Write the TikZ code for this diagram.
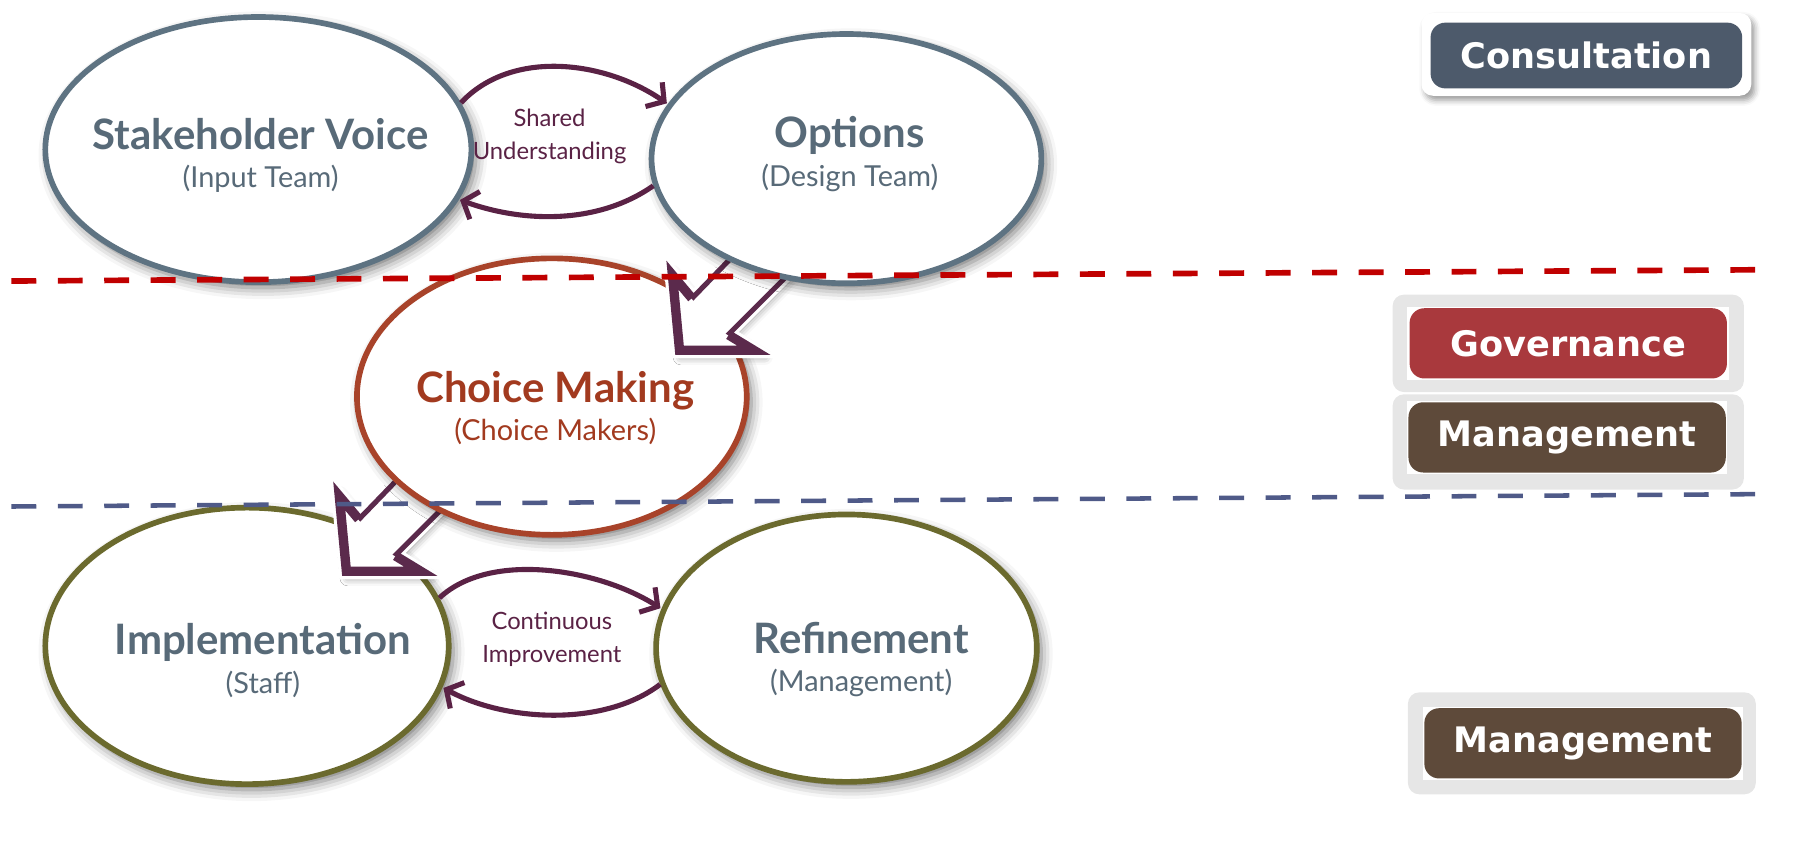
\documentclass[tikz,border=0pt]{standalone}
\usepackage{fontspec}
\setmainfont{Lato}
\newfontfamily\tagfont{DejaVu Sans}
\usetikzlibrary{shapes.geometric,arrows.meta,shadows.blur}

\definecolor{slate}{HTML}{5E7382}
\definecolor{slatetext}{HTML}{586A78}
\definecolor{rust}{HTML}{A8432A}
\definecolor{rusttext}{HTML}{A23A1F}
\definecolor{olive}{HTML}{6B6A2E}
\definecolor{plum}{HTML}{5A2245}
\definecolor{blockplum}{HTML}{5B2A4C}
\definecolor{redline}{HTML}{C00000}
\definecolor{blueline}{HTML}{4F5A88}
\definecolor{consultfill}{HTML}{4D5A6B}
\definecolor{governfill}{HTML}{A9393D}
\definecolor{managefill}{HTML}{5E4A3A}
\definecolor{lightframe}{HTML}{E6E6E6}

\newcommand{\ttl}[1]{{\fontsize{37}{40}\selectfont\bfseries #1}}
\newcommand{\blockarrow}[1]{%
  \draw[blockar, shift={(#1)}] (0,0) -- (-7,-74) -- (14,-49) -- (74,-111)
    -- (106,-77) -- (46,-17) -- (74,0) -- cycle;
  \begin{scope}[shift={(#1)}]
    \clip (0,0) -- (-7,-74) -- (14,-49) -- (74,-111)
      -- (106,-77) -- (46,-17) -- (74,0) -- cycle;
    \draw[blockplum, line width=12pt, line join=miter]
      (14,-49) -- (-7,-74) -- (0,0) -- (74,0) -- (46,-17);
  \end{scope}}

\begin{document}
\begin{tikzpicture}[
    x=1pt, y=-1pt,
    % ellipses
    base/.style={ellipse, line width=5pt, fill=white, inner sep=0pt,
      blur shadow={shadow xshift=4pt, shadow yshift=-5pt,
                   shadow blur radius=10pt, shadow opacity=55}},
    topell/.style={base, draw=slate},
    midell/.style={base, draw=rust},
    lowell/.style={base, draw=olive},
    % texts
    subtxt/.style={align=center, text=slatetext, font=\fontsize{25.5}{31}\selectfont},
    choicetxt/.style={subtxt, text=rusttext},
    loopnote/.style={align=center, text=plum, font=\fontsize{21}{29}\selectfont},
    % labels on the right
    tagbox/.style={rectangle, rounded corners=13pt, minimum width=280pt,
      minimum height=62pt, text=white, font=\fontsize{31}{36}\tagfont\bfseries},
    tagframe/.style={rectangle, rounded corners=10pt, fill=lightframe,
      minimum width=310pt},
    % arrows
    cycar/.style={plum, line width=4.5pt, shorten >=1pt,
      -{Straight Barb[length=11pt, width=26pt]}},
    blockar/.style={fill=white, draw=blockplum, line width=4.5pt, line join=miter,
      blur shadow={shadow xshift=3pt, shadow yshift=-4pt,
                   shadow blur radius=7pt, shadow opacity=45},
      preaction={draw=white, line width=10pt}},
    sepline/.style={line width=5pt, dash pattern=on 22pt off 19pt}
  ]

  \useasboundingbox (0,0) rectangle (1600,742);

  % ellipses, back to front
  \node (sv)   [topell, minimum width=376pt, minimum height=234pt] at (228,132) {};
  \node (svtext)   [subtxt] at ([shift={(2,5)}]sv)    {\ttl{Stakeholder Voice}\\[3pt](Input Team)};

  \node (ref)  [lowell, minimum width=336pt, minimum height=236pt] at (747,572) {};
  \node (reftext)  [subtxt] at ([shift={(13,10)}]ref) {\ttl{Refinement}\\[3pt](Management)};

  \node (impl) [lowell, minimum width=356pt, minimum height=244pt] at (218,570) {};
  \node (impltext) [subtxt] at ([shift={(14,13)}]impl) {\ttl{Implementation}\\[3pt](Staff)};

  \coordinate (cmimpl) at (304,506);
  \blockarrow{cmimpl}

  \node (cm)   [midell, minimum width=344pt, minimum height=244pt] at (487,350) {};
  \node (cmtext)   [choicetxt] at ([shift={(3,10)}]cm) {\ttl{Choice Making}\\[3pt](Choice Makers)};

  \coordinate (optcm) at (598,311);
  \blockarrow{optcm}

  \node (opt)  [topell, minimum width=344pt, minimum height=220pt] at (747,140) {};
  \node (opttext)  [subtxt] at ([shift={(3,-4)}]opt)  {\ttl{Options}\\[3pt](Design Team)};

  % loops between the ellipses
  \node (shared)  [loopnote] at (485,120) {Shared\\Understanding};
  \node (improve) [loopnote] at (487,564) {Continuous\\Improvement};

  \draw[cycar] (sv.13)    .. controls +(45,-48) and +(-55,-38) .. (opt.163);
  \draw[cycar] (opt.188)  .. controls +(-50,35) and +(55,20)   .. (sv.-14);
  \draw[cycar] (impl.14)  .. controls +(45,-42) and +(-55,-35) .. (ref.168);
  \draw[cycar] (ref.191)  .. controls +(-50,38) and +(55,30)   .. (impl.-12);

  % labels on the right
  \node (consultframe) [rectangle, rounded corners=10pt, fill=white,
    minimum width=291pt, minimum height=73pt,
    blur shadow={shadow xshift=3pt, shadow yshift=-4pt, shadow blur radius=5pt}]
    at (1400,48) {};
  \node (consult) [tagbox, fill=consultfill, minimum width=275pt, minimum height=58pt]
    at (1400,49) {Consultation};

  \node (govframe) [tagframe, minimum height=86pt] at (1384,303) {};
  \node (govwhite) [rectangle, fill=white, minimum width=284pt, minimum height=64pt]
    at (1384,303) {};
  \node (govern)   [tagbox, fill=governfill] at (1384,303) {Governance};

  \node (manframe) [tagframe, minimum height=84pt] at (1384,390) {};
  \node (manwhite) [rectangle, fill=white, minimum width=282pt, minimum height=64pt]
    at (1383,386) {};
  \node (manage)   [tagbox, fill=managefill] at (1383,386) {Management};

  \node (staffframe) [tagframe, minimum width=307pt, minimum height=90pt] at (1396,656) {};
  \node (staffwhite) [rectangle, fill=white, minimum width=282pt, minimum height=64pt]
    at (1397,656) {};
  \node (staffman)   [tagbox, fill=managefill] at (1397,656) {Management};

  % separators
  \draw[sepline, redline]  (10,248) -- (1562,238);
  \draw[sepline, blueline, line width=4pt] (10,447) -- (1562,436);
\end{tikzpicture}
\end{document}
